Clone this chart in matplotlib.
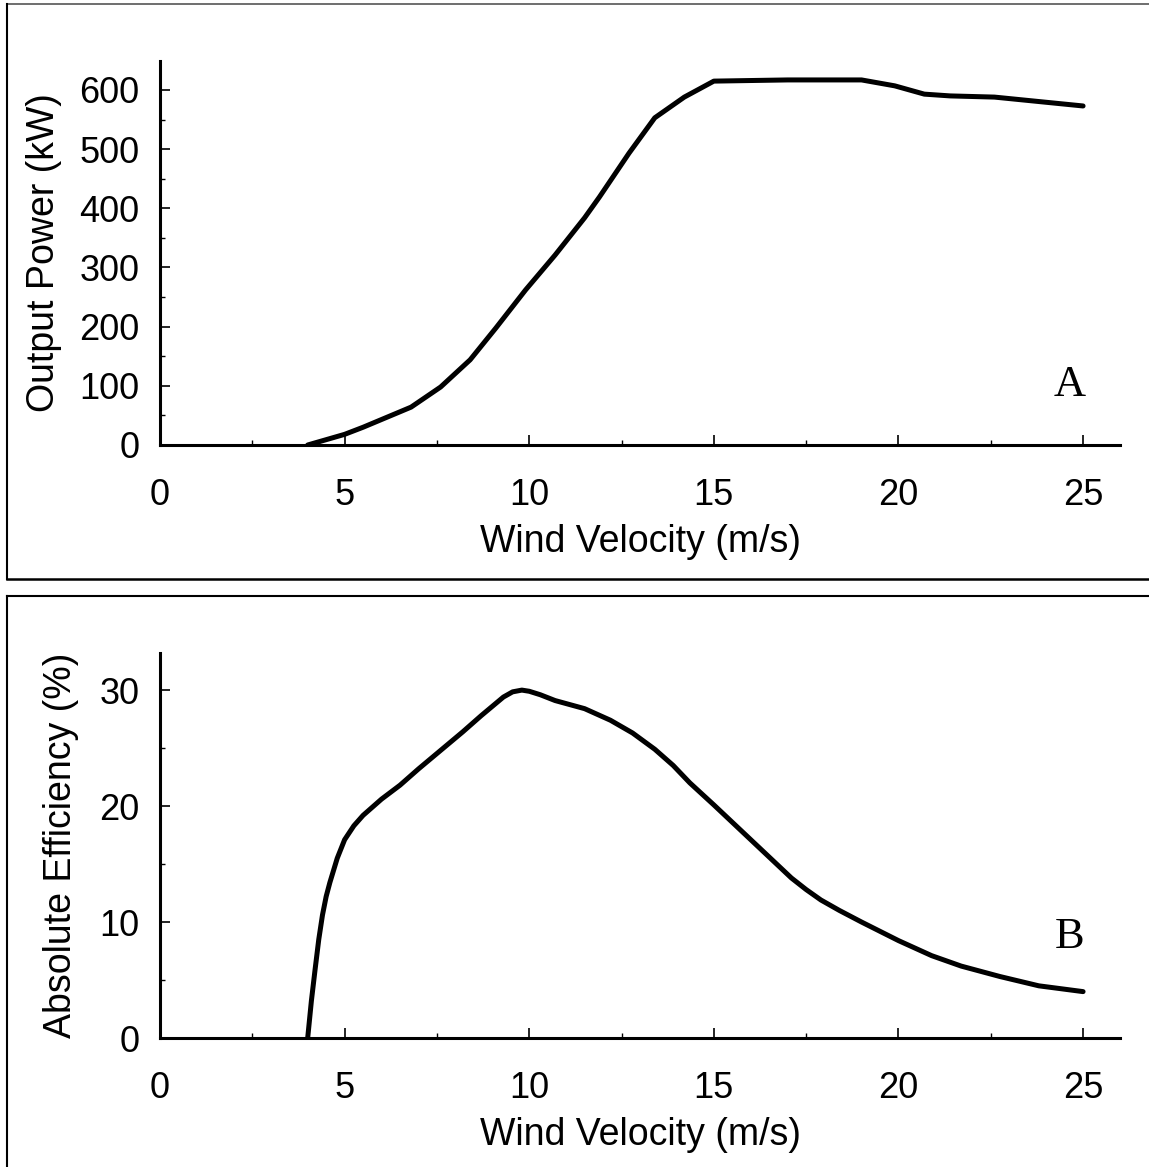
import matplotlib.pyplot as plt
from matplotlib.lines import Line2D
from matplotlib.ticker import MultipleLocator

plt.rcParams["font.family"] = ["Liberation Sans", "DejaVu Sans"]

# Panel A: output power curve
wind_a = [4.0, 5.0, 5.5, 6.8, 7.6, 8.4, 9.1, 9.9, 10.7, 11.5, 11.9, 12.7,
          13.4, 14.2, 15.0, 17.0, 19.0, 19.9, 20.7, 21.4, 22.6, 25.0]
power = [0, 18, 30, 64, 98, 144, 198, 262, 321, 384, 419, 493,
         553, 588, 615, 617, 617, 607, 593, 590, 588, 573]

# Panel B: absolute efficiency curve
wind_b = [4.0, 4.1, 4.2, 4.3, 4.4, 4.5, 4.6, 4.8, 5.0, 5.25, 5.5, 5.75, 6.0,
          6.5, 7.0, 7.6, 8.2, 8.7, 9.0, 9.3, 9.55, 9.8, 10.0, 10.3, 10.7,
          11.5, 12.2, 12.8, 13.4, 13.9, 14.35, 15.0, 15.5, 16.0, 16.6, 17.1,
          17.5, 17.9, 18.4, 19.0, 20.0, 20.9, 21.7, 22.75, 23.8, 25.0]
efficiency = [0, 3.2, 5.9, 8.5, 10.6, 12.2, 13.4, 15.5, 17.1, 18.3, 19.2, 19.9, 20.6,
              21.8, 23.2, 24.8, 26.4, 27.8, 28.6, 29.4, 29.85, 30.0, 29.9, 29.6, 29.1,
              28.4, 27.4, 26.3, 24.9, 23.5, 22.0, 20.1, 18.6, 17.1, 15.3, 13.8,
              12.8, 11.9, 11.0, 10.0, 8.4, 7.1, 6.2, 5.3, 4.5, 4.0]

fig = plt.figure(figsize=(11.49, 11.67), dpi=100)

# panel frames
H = 1167.0
W = 1149.0
fx = 7 / W
fig.add_artist(Line2D([fx, 1.0], [1 - 4 / H, 1 - 4 / H], color="#555555", lw=1.2))
fig.add_artist(Line2D([fx, fx], [1 - 4 / H, 1 - 579 / H], color="black", lw=1.5))
fig.add_artist(Line2D([fx, 1.0], [1 - 579 / H, 1 - 579 / H], color="black", lw=1.8))
fig.add_artist(Line2D([fx, 1.0], [1 - 596 / H, 1 - 596 / H], color="black", lw=1.5))
fig.add_artist(Line2D([fx, fx], [1 - 596 / H, 0.0], color="black", lw=1.5))

ax_a = fig.add_axes([160 / W, 1 - 445 / H, 960 / W, 384 / H])
ax_b = fig.add_axes([160 / W, 1 - 1038 / H, 960 / W, 385 / H])

panels = [
    (ax_a, wind_a, power, 649, 100, 50, "Output Power (kW)", "A", 385, 12),
    (ax_b, wind_b, efficiency, 33.2, 10, 5, "Absolute Efficiency (%)", "B", 937, 14),
]

for ax, x, y, ytop, major, minor, ylabel, tag, tag_y, ypad in panels:
    ax.plot(x, y, color="black", lw=3.6, solid_capstyle="round", solid_joinstyle="round")
    ax.set_xlim(0, 26.0)
    ax.set_ylim(0, ytop)
    ax.xaxis.set_major_locator(MultipleLocator(5))
    ax.xaxis.set_minor_locator(MultipleLocator(2.5))
    ax.yaxis.set_major_locator(MultipleLocator(major))
    ax.yaxis.set_minor_locator(MultipleLocator(minor))
    for side in ["top", "right"]:
        ax.spines[side].set_visible(False)
    for side in ["left", "bottom"]:
        ax.spines[side].set_linewidth(2.2)
    ax.tick_params(which="major", direction="in", length=7, width=1.2,
                   labelsize=26)
    ax.tick_params(which="minor", direction="in", length=3.5, width=1.0)
    ax.tick_params(axis="x", which="major", pad=24)
    ax.tick_params(axis="y", which="major", pad=15)
    ax.set_xlabel("Wind Velocity (m/s)", fontsize=27, labelpad=8)
    ax.set_ylabel(ylabel, fontsize=27, labelpad=ypad)
    fig.text(1070 / W, 1 - tag_y / H, tag, fontsize=32, ha="center", va="center",
             family=["Liberation Serif", "DejaVu Serif"])

fig.savefig("out.png", dpi=100)
